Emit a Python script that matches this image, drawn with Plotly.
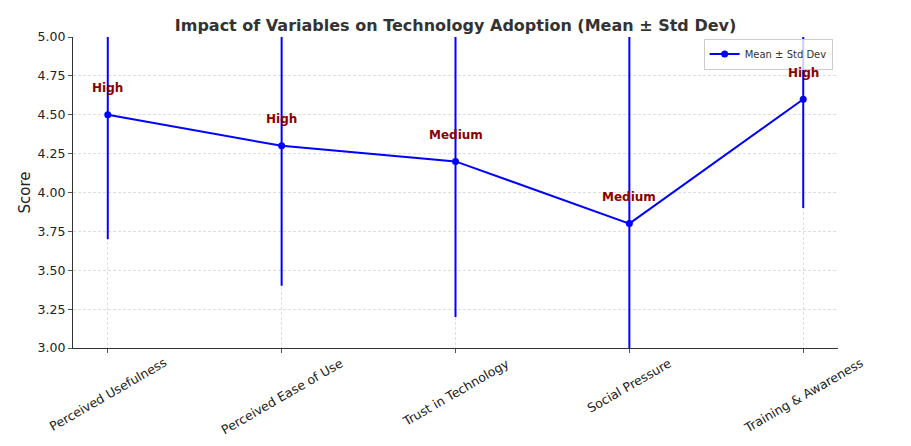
import plotly.graph_objects as go

categories = ["Perceived Usefulness", "Perceived Ease of Use", "Trust in Technology",
              "Social Pressure", "Training & Awareness"]
means = [4.5, 4.3, 4.2, 3.8, 4.6]
std_devs = [0.8, 0.9, 1.0, 1.2, 0.7]
impact = ["High", "High", "Medium", "Medium", "High"]

label_offset = 0.17

fig = go.Figure()
fig.add_trace(go.Scatter(
    x=categories, y=means, mode="lines+markers",
    name="Mean ± Std Dev",
    line=dict(color="#0000FF", width=2),
    marker=dict(color="#0000FF", size=7),
    error_y=dict(type="data", array=std_devs, visible=True,
                 color="#0000FF", thickness=2, width=0),
))

annotations = []
for c, m, t in zip(categories, means, impact):
    annotations.append(dict(x=c, y=m + label_offset, xref="x", yref="y", text="<b>%s</b>" % t,
                            showarrow=False, font=dict(color="#8B0000", size=12,
                                                       family="DejaVu Sans"),
                            xanchor="center", yanchor="middle"))
for c in categories:
    annotations.append(dict(x=c, y=-0.015, xref="x", yref="paper", text=c, textangle=-30,
                            showarrow=False, font=dict(color="#222", size=12.5,
                                                       family="DejaVu Sans"),
                            xanchor="center", yanchor="top"))

fig.update_layout(
    width=911, height=446,
    margin=dict(l=73, r=73, t=37, b=98),
    paper_bgcolor="white", plot_bgcolor="white",
    font=dict(family="DejaVu Sans", color="#222", size=12),
    title=dict(text="<b>Impact of Variables on Technology Adoption (Mean ± Std Dev)</b>",
               x=0.5, xanchor="center", y=0.944, yanchor="middle",
               font=dict(size=16, color="#333")),
    showlegend=True,
    legend=dict(x=0.993, y=0.995, xanchor="right", yanchor="top",
                bgcolor="rgba(255,255,255,0.8)", bordercolor="#cccccc", borderwidth=1,
                font=dict(size=10, color="#333"), itemwidth=30,
                tracegroupgap=0),
    annotations=annotations,
)
fig.update_xaxes(type="category", range=[-0.2, 4.2], showticklabels=False,
                 showgrid=True, gridcolor="#dedede", griddash="3px,2px", gridwidth=0.6,
                 showline=True, linecolor="#333", linewidth=1.2,
                 ticks="outside", ticklen=4, tickcolor="#555", zeroline=False)
fig.update_yaxes(range=[3.0, 5.0], dtick=0.25, tick0=3.0, tickformat=".2f",
                 showgrid=True, gridcolor="#dedede", griddash="3px,2px", gridwidth=0.6,
                 showline=True, linecolor="#333", linewidth=1.2,
                 ticks="outside", ticklen=4, tickcolor="#555", zeroline=False,
                 title=dict(text="Score", font=dict(size=15, color="#222"), standoff=3),
                 tickfont=dict(size=12.5, color="#222"))

fig.write_html("out.html", config={"displayModeBar": False},
               post_script="document.body.style.margin='0';")
